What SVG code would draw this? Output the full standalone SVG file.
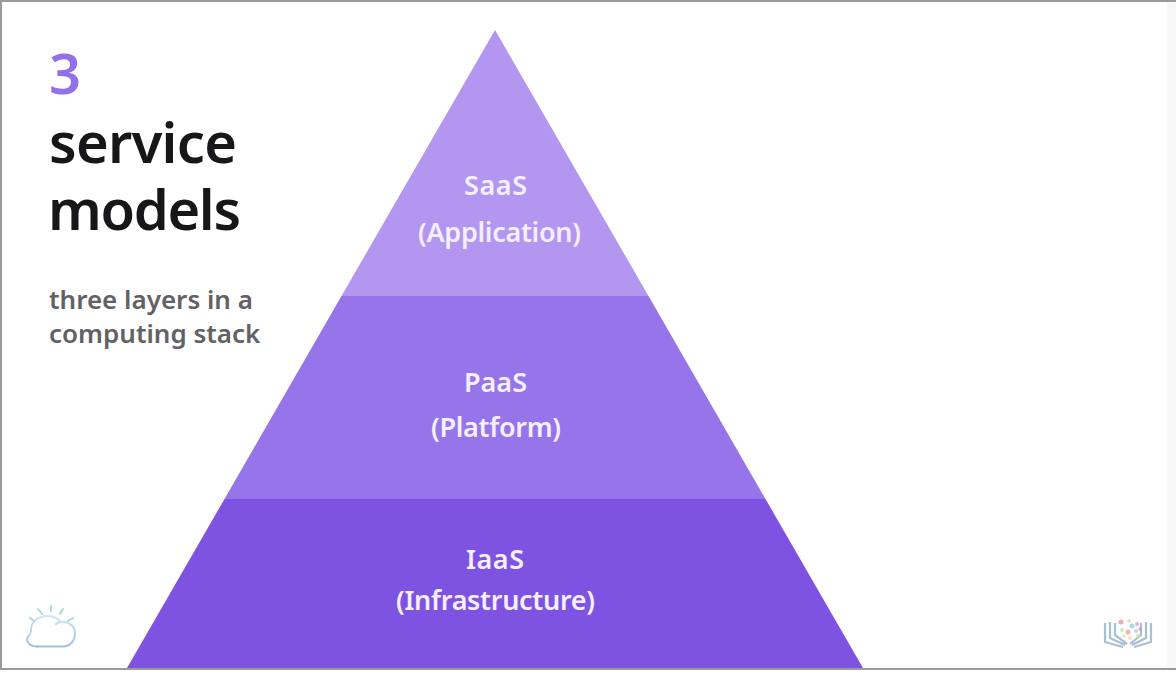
<svg xmlns="http://www.w3.org/2000/svg" width="1176" height="680" viewBox="0 0 1176 680">
<style>
text{font-family:"Noto Sans","Open Sans","Liberation Sans",sans-serif}
.h{font-size:56px;font-weight:600;fill:#17171a}
.s{font-size:26px;font-weight:600;fill:#626266}
.l{font-size:27px;font-weight:600;fill:#f4effd;text-anchor:middle}
</style>
<defs>
<linearGradient id="cg" gradientUnits="userSpaceOnUse" x1="0" y1="612" x2="0" y2="648"><stop offset="0" stop-color="#d8eef0"/><stop offset="1" stop-color="#9dbcec"/></linearGradient>
<filter id="soft" x="-10%" y="-10%" width="120%" height="120%"><feGaussianBlur stdDeviation="0.5"/></filter>
</defs>
<rect width="1176" height="680" fill="#fff"/>
<rect x="1167" y="2" width="9" height="666" fill="#f8f8f8"/>
<g id="frame" fill="#9a9a9a"><rect width="1176" height="2"/><rect width="2" height="670"/><rect y="668" width="1176" height="2"/></g>
<g id="layer-saas"><polygon points="495,30 648.5,296 341.5,296" fill="#b396f0"/><text class="l" x="495.5" y="195" textLength="63">SaaS</text><text class="l" x="499.5" y="242" textLength="163">(Application)</text></g>
<g id="layer-paas"><polygon points="341.5,296 648.5,296 765.5,499 224.5,499" fill="#9675ea"/><text class="l" x="495.5" y="392" textLength="63">PaaS</text><text class="l" x="496" y="437" textLength="130">(Platform)</text></g>
<g id="layer-iaas"><polygon points="224.5,499 765.5,499 863,668 127,668" fill="#7e53e2"/><text class="l" x="495" y="569" textLength="58">IaaS</text><text class="l" x="495.5" y="610" textLength="199">(Infrastructure)</text></g>
<g id="title"><text x="49" y="94" font-size="56" font-weight="600" fill="#9271e8">3</text><text class="h" x="49" y="163" textLength="188">service</text><text class="h" x="48" y="230" textLength="193">models</text><text class="s" x="49" y="309">three layers in a</text><text class="s" x="49" y="343">computing stack</text></g>
<g id="cloud-logo" fill="none" stroke-linecap="round" filter="url(#soft)"><path d="M37 646.500H63C70 646.500 75 641 75 633C75 626 69 622 63 622C60 622 58 622 56 624" stroke="url(#cg)" stroke-width="2"/><path d="M30 634C28 636 27 638 27 640C28 644 32 646.500 37 646.500M31 632C30 622 38 616 47 616C52 616 57 618 60 621" stroke="url(#cg)" stroke-width="2"/><path d="M30 618L34 621M38 609L42 614M51 606V611M63 609L60 614M73 618L68 621" stroke="#a8dcd2" stroke-width="2"/></g>
<g id="book-logo" filter="url(#soft)"><g fill="none" stroke="#a9bfd2" stroke-width="2.200"><path d="M1105 623V642L1123 647M1110 622V638L1125 645M1115 623V635L1127 644"/><path d="M1151 623V642L1134 647M1146 622V638L1132 645M1141 623V635L1130 644"/></g><g opacity=".6"><circle cx="1121" cy="622" r="2.500" fill="#e0708a"/><circle cx="1129" cy="621" r="2" fill="#f0c0a0"/><circle cx="1132" cy="626" r="2.500" fill="#6fc4d8"/><circle cx="1137" cy="624" r="2" fill="#c880c8"/><circle cx="1128" cy="632" r="2.500" fill="#e88878"/><circle cx="1122" cy="630" r="2" fill="#b0d8a0"/><circle cx="1136" cy="631" r="2" fill="#90b8e0"/><circle cx="1140" cy="629" r="1.800" fill="#c880c8"/><circle cx="1138" cy="636" r="2.500" fill="#c8e0a0"/><circle cx="1130" cy="638" r="2" fill="#f0d090"/><circle cx="1124" cy="636" r="1.800" fill="#c8e0a0"/></g></g>
</svg>
